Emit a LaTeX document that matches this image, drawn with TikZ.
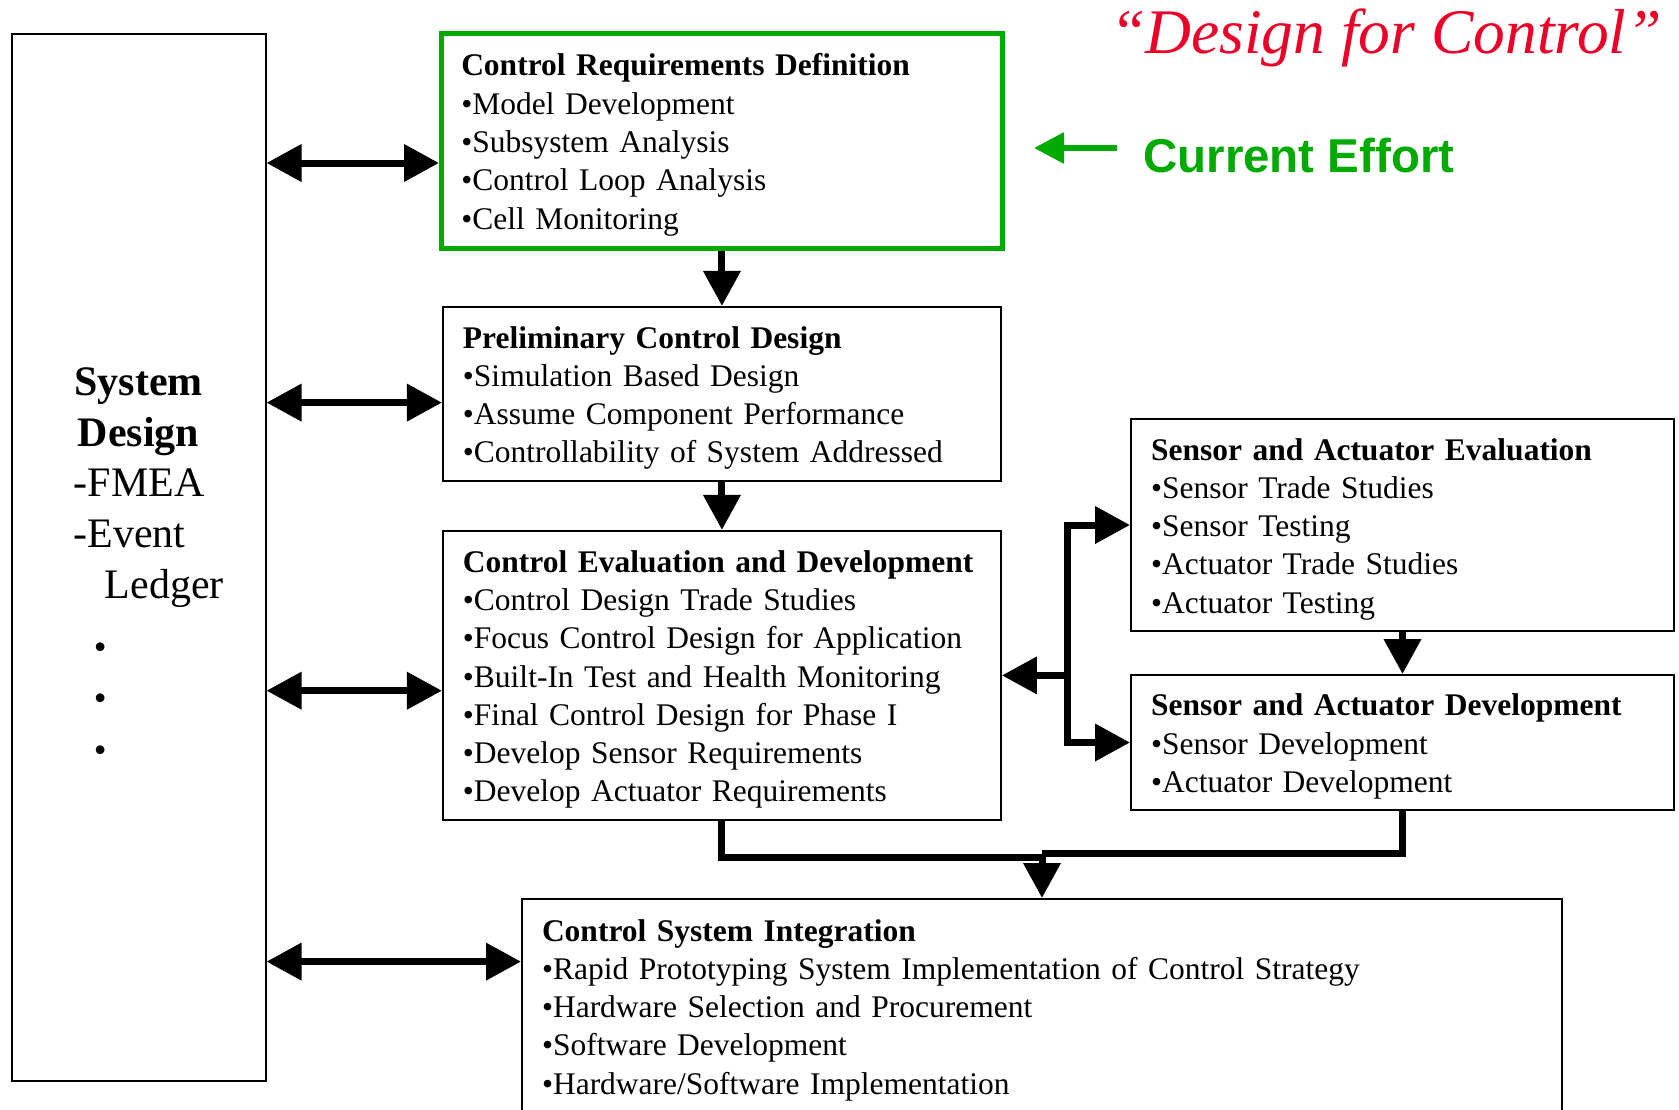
\documentclass[tikz,border=0pt]{standalone}
\usepackage{fontspec}
\setmainfont{Liberation Serif}
\newfontfamily\headsans{Liberation Sans}
\usepackage{xcolor}
\usetikzlibrary{positioning,arrows.meta}

\definecolor{effortgreen}{RGB}{0,170,0}
\definecolor{titlered}{RGB}{235,0,40}

\newcommand{\boxhead}[1]{\rule{0pt}{30pt}\mbox{\bfseries #1}}
\newcommand{\moredot}{\hspace*{17.4pt}{\fontsize{73}{51.4}\selectfont.}}

\begin{document}
\begin{tikzpicture}[
    x=1pt, y=-1pt,
    box/.style={draw,line width=2pt,align=left,inner xsep=20pt,
      font=\fontsize{31.5}{38.3}\selectfont},
    link/.style={line width=7pt},
    arr/.style={link,-{Triangle[length=35pt,width=36pt]}},
    dblarr/.style={link,{Triangle[length=35pt,width=36pt]}-{Triangle[length=35pt,width=36pt]}}
  ]
  \useasboundingbox (0,0) rectangle (1679,1109);

  % system design column
  \node[box,anchor=north west,minimum width=254pt,minimum height=1046.5pt] (sd) at (10.5,33) {};
  \node[anchor=base,align=center,inner sep=0pt,font=\fontsize{42}{51.4}\selectfont\bfseries] (sdtitle) at (138.5,446.5) {System\\Design};
  \node[anchor=base west,align=left,inner sep=0pt,font=\fontsize{42}{51.4}\selectfont] (sdlist) at (73.5,753)
    {-FMEA\\-Event\\\hspace*{31pt}Ledger\\\moredot\\\moredot\\\moredot};

  % control chain
  \node[box,draw=effortgreen,line width=4.5pt,anchor=north west,text width=521.4pt,minimum height=215.4pt] (crd) at (439,31)
    {\boxhead{Control Requirements Definition}\\•Model Development\\•Subsystem Analysis\\•Control Loop Analysis\\•Cell Monitoring};
  \node[box,below=55pt of crd,text width=518pt,minimum height=174pt] (pcd)
    {\boxhead{Preliminary Control Design}\\•Simulation Based Design\\•Assume Component Performance\\•Controllability of System Addressed};
  \node[box,below=48pt of pcd,text width=518pt,minimum height=289pt] (ced)
    {\boxhead{Control Evaluation and Development}\\•Control Design Trade Studies\\•Focus Control Design for Application\\•Built-In Test and Health Monitoring\\•Final Control Design for Phase I\\•Develop Sensor Requirements\\•Develop Actuator Requirements};

  % sensors and actuators
  \node[box,anchor=north west,text width=503pt,minimum height=212pt] (sae) at (1130,418)
    {\boxhead{Sensor and Actuator Evaluation}\\•Sensor Trade Studies\\•Sensor Testing\\•Actuator Trade Studies\\•Actuator Testing};
  \node[box,below=42pt of sae,text width=503pt,minimum height=135pt] (sad)
    {\boxhead{Sensor and Actuator Development}\\•Sensor Development\\•Actuator Development};

  \node[box,anchor=north west,text width=1000pt,minimum height=214pt] (csi) at (521,898)
    {\boxhead{Control System Integration}\\•Rapid Prototyping System Implementation of Control Strategy\\•Hardware Selection and Procurement\\•Software Development\\•Hardware/Software Implementation};

  % headline and marker
  \node[anchor=base west,inner sep=0pt,text=titlered,font=\fontsize{63.5}{72}\selectfont\itshape] (dfc) at (1110,53) {“Design for Control”};
  \node[anchor=base west,inner sep=0pt,text=effortgreen,font=\headsans\bfseries\fontsize{47.5}{56}\selectfont] (ce) at (1143,172) {Current Effort};
  \coordinate (cetail) at (1117,148);
  \coordinate (cetip) at (1034,148);
  \draw[line width=6pt,effortgreen,-{Triangle[length=30pt,width=30pt]}] (cetail) -- (cetip);

  % connectors
  \draw[arr] (crd.south) -- (pcd.north);
  \draw[arr] (pcd.south) -- (ced.north);
  \draw[dblarr] (sd.east |- 0,163) -- (crd.west |- 0,163);
  \draw[dblarr] (sd.east |- 0,402.6) -- (pcd.west |- 0,402.6);
  \draw[dblarr] (sd.east |- 0,690.7) -- (ced.west |- 0,690.7);
  \draw[dblarr] (sd.east |- 0,961.6) -- (csi.west |- 0,961.6);

  \coordinate (jn) at ([xshift=66pt]ced.east);
  \draw[arr] (jn) -- (ced.east);
  \draw[arr] (jn) |- (sae.west);
  \draw[arr] (jn) |- (sad.west);
  \draw[arr] (sae.south) -- (sad.north);

  \draw[arr] (ced.south) |- ([yshift=41pt]csi.north) -- (csi.north);
  \draw[link] (sad.south) |- ([yshift=45pt]csi.north);
\end{tikzpicture}
\end{document}
